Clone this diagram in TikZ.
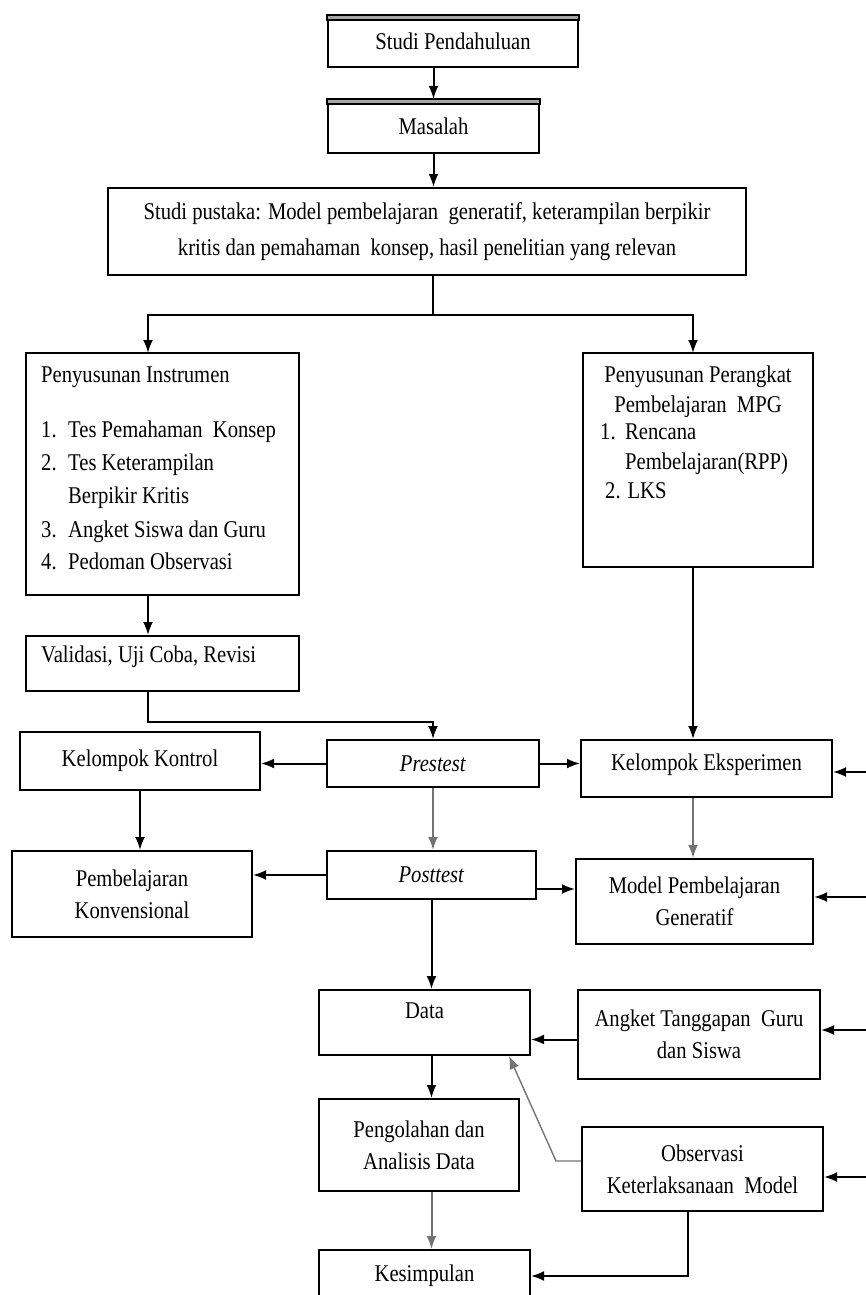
\documentclass[tikz,border=0pt]{standalone}
\usepackage{fontspec}
\setmainfont[FakeStretch=0.86]{Liberation Serif}
\usetikzlibrary{positioning}
\usetikzlibrary{calc}
\usetikzlibrary{arrows.meta}

\tikzset{
  box/.style={draw, line width=2pt, inner sep=0pt, align=center, font=\fontsize{24}{32}\selectfont},
  txt/.style={inner sep=0pt, font=\fontsize{24}{32}\selectfont},
  arr/.style={line width=2pt, -{Latex[length=13pt,width=10pt]}},
  arrg/.style={arr, draw=black!55}
}

\begin{document}
\begin{tikzpicture}[x=1pt,y=-1pt]
\useasboundingbox (0,0) rectangle (866,1295);
\clip (0,0) rectangle (866,1295);

% boxes
\node[box, minimum width=250pt, minimum height=51pt] (pend) at (453,41.5) {Studi Pendahuluan};
\node[box, minimum width=211pt, minimum height=53pt] (masalah) at (433.5,126.5) {Masalah};
\node[box, minimum width=638pt, minimum height=87pt, font=\fontsize{24}{36}\selectfont] (pustaka) at (427,231.5)
  {Studi pustaka: Model pembelajaran\ \ generatif, keterampilan berpikir\\kritis dan pemahaman\ \ konsep, hasil penelitian yang relevan};
\node[box, minimum width=273pt, minimum height=242pt] (instr) at (162.5,474) {};
\node[box, minimum width=273pt, minimum height=55pt] (valid) at (162.5,663.5) {};
\node[box, minimum width=230pt, minimum height=214pt] (perangkat) at (698,460) {};
\node[box, minimum width=240pt, minimum height=58pt] (kontrol) at (140,761) {Kelompok Kontrol};
\node[box, minimum width=212pt, minimum height=47pt] (prestest) at (433,763.5) {\textit{Prestest}};
\node[box, minimum width=251pt, minimum height=57pt, text depth=12pt] (eksp) at (706.5,768.5) {Kelompok Eksperimen};
\node[box, minimum width=240pt, minimum height=86pt] (konv) at (132,894) {Pembelajaran\\Konvensional};
\node[box, minimum width=209pt, minimum height=48pt] (posttest) at (431.5,875) {\textit{Posttest}};
\node[box, minimum width=237pt, minimum height=85pt] (gen) at (694.5,901.5) {Model Pembelajaran\\Generatif};
\node[box, minimum width=211pt, minimum height=65pt, text depth=23pt] (data) at (424.5,1022.5) {Data};
\node[box, minimum width=242pt, minimum height=89pt] (angket) at (699,1034.5) {Angket Tanggapan\ \ Guru\\dan Siswa};
\node[box, minimum width=200pt, minimum height=92pt] (olah) at (419,1145) {Pengolahan dan\\Analisis Data};
\node[box, minimum width=241pt, minimum height=84pt] (obs) at (702.5,1169) {Observasi\\Keterlaksanaan\ \ Model};
\node[box, minimum width=211pt, minimum height=52pt] (kesim) at (424.5,1276) {Kesimpulan};

% double top edge
\draw[line width=1.4pt, fill=black!35] (pend.north west) rectangle ($(pend.north east)+(0,5)$);
\draw[line width=1.4pt, fill=black!35] (masalah.north west) rectangle ($(masalah.north east)+(0,5)$);

% texts of the left aligned boxes
\node[txt, anchor=mid west] (ins0) at (41,380) {Penyusunan Instrumen};
\node[txt, anchor=mid west] (ins1) at (41,435) {\makebox[27pt][l]{1.}Tes Pemahaman\ \ Konsep};
\node[txt, anchor=mid west] (ins2) at (41,468) {\makebox[27pt][l]{2.}Tes Keterampilan};
\node[txt, anchor=mid west] (ins2b) at (68,501) {Berpikir Kritis};
\node[txt, anchor=mid west] (ins3) at (41,535) {\makebox[27pt][l]{3.}Angket Siswa dan Guru};
\node[txt, anchor=mid west] (ins4) at (41,567) {\makebox[27pt][l]{4.}Pedoman Observasi};
\node[txt, anchor=mid west] (validtxt) at (41,660) {\frenchspacing Validasi, Uji Coba, Revisi};

\node[txt, anchor=mid] (per0) at (698,380) {Penyusunan Perangkat};
\node[txt, anchor=mid] (per0b) at (698,410) {Pembelajaran\ \ MPG};
\node[txt, anchor=mid west] (per1) at (600,437) {\makebox[25pt][l]{1.}Rencana};
\node[txt, anchor=mid west] (per1b) at (625,467) {Pembelajaran(RPP)};
\node[txt, anchor=mid west] (per2) at (605,496) {2. LKS};

% points
\coordinate (split) at (433,315);
\coordinate (inInstr) at (148,353);
\coordinate (inPer) at (693,353);
\coordinate (rEksp) at (866,772);
\coordinate (rGen) at (866,897);
\coordinate (rAngket) at (866,1030);
\coordinate (rObs) at (866,1177);

\path
(pend.south -| masalah.north) edge[arr] (masalah.north)
(masalah.south) edge[arr] (masalah.south |- pustaka.north)
(inInstr |- instr.south) edge[arr] (inInstr |- valid.north)
(inPer |- perangkat.south) edge[arr] (inPer |- eksp.north)
(prestest.west) edge[arr] (prestest.west -| kontrol.east)
(prestest.east) edge[arr] (prestest.east -| eksp.west)
(rEksp) edge[arr] (rEksp -| eksp.east)
(kontrol.south) edge[arr] (kontrol.south |- konv.north)
(prestest.south) edge[arrg] (prestest.south |- posttest.north)
(posttest.west) edge[arr] (posttest.west -| konv.east)
([yshift=-14pt]posttest.east) edge[arr] ([yshift=-14pt]posttest.east -| gen.west)
(inPer |- eksp.south) edge[arrg] (inPer |- gen.north)
(rGen) edge[arr] (rGen -| gen.east)
(posttest.south) edge[arr] (posttest.south |- data.north)
([yshift=-5pt]angket.west) edge[arr] ([yshift=-5pt]angket.west -| data.east)
(rAngket) edge[arr] (rAngket -| angket.east)
(data.south -| posttest.south) edge[arr] (olah.north -| posttest.south)
(olah.south -| posttest.south) edge[arrg] (kesim.north -| posttest.south)
(rObs) edge[arr] (rObs -| obs.east);

\draw[line width=2pt] (pustaka.south -| split) -- (split);
\draw[arr] (split) -| (inInstr);
\draw[arr] (split) -| (inPer);
\draw[arr] (inInstr |- valid.south) -- ++(0,30) -| (prestest.north);
\draw[arrg, line width=1.4pt] ([yshift=8pt]obs.west) -- ++(-25,0) -- ([xshift=-22pt]data.south east);
\draw[arr] ([xshift=-15pt]obs.south) |- (kesim.east);
\end{tikzpicture}
\end{document}
